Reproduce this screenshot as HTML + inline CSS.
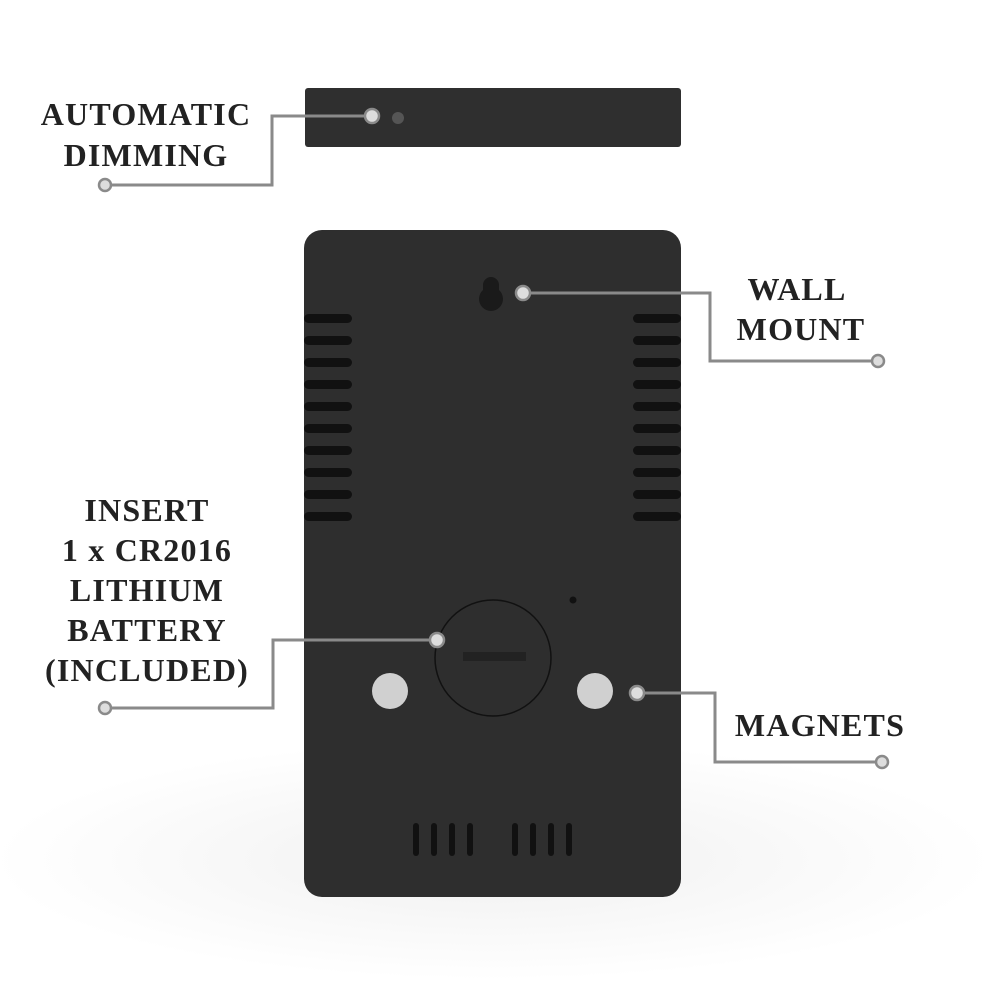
<!DOCTYPE html>
<html><head><style>
body{margin:0;background:#fff;}
svg text{font-family:"Liberation Serif",serif;font-weight:bold;font-size:32px;letter-spacing:1.2px;fill:#222;text-anchor:middle;}
</style></head><body>
<svg width="1002" height="1002" viewBox="0 0 1002 1002" xmlns="http://www.w3.org/2000/svg">
<defs><radialGradient id="sh" cx="0.5" cy="0.5" r="0.5"><stop offset="0" stop-color="#f0f0f0"/><stop offset="1" stop-color="#fff"/></radialGradient></defs>
<ellipse cx="493" cy="860" rx="500" ry="120" fill="url(#sh)"/>
<rect x="305" y="88" width="376" height="59" rx="3" fill="#2f2f2f"/>
<circle cx="398" cy="118" r="6" fill="#555"/>
<rect x="304" y="230" width="377" height="667" rx="18" fill="#2e2e2e"/>
<g fill="#111">
<rect x="304" y="314" width="48" height="9" rx="4.5"/><rect x="304" y="336" width="48" height="9" rx="4.5"/><rect x="304" y="358" width="48" height="9" rx="4.5"/><rect x="304" y="380" width="48" height="9" rx="4.5"/><rect x="304" y="402" width="48" height="9" rx="4.5"/><rect x="304" y="424" width="48" height="9" rx="4.5"/><rect x="304" y="446" width="48" height="9" rx="4.5"/><rect x="304" y="468" width="48" height="9" rx="4.5"/><rect x="304" y="490" width="48" height="9" rx="4.5"/><rect x="304" y="512" width="48" height="9" rx="4.5"/>
<rect x="633" y="314" width="48" height="9" rx="4.5"/><rect x="633" y="336" width="48" height="9" rx="4.5"/><rect x="633" y="358" width="48" height="9" rx="4.5"/><rect x="633" y="380" width="48" height="9" rx="4.5"/><rect x="633" y="402" width="48" height="9" rx="4.5"/><rect x="633" y="424" width="48" height="9" rx="4.5"/><rect x="633" y="446" width="48" height="9" rx="4.5"/><rect x="633" y="468" width="48" height="9" rx="4.5"/><rect x="633" y="490" width="48" height="9" rx="4.5"/><rect x="633" y="512" width="48" height="9" rx="4.5"/>
<rect x="413" y="823" width="6" height="33" rx="3"/><rect x="431" y="823" width="6" height="33" rx="3"/><rect x="449" y="823" width="6" height="33" rx="3"/><rect x="467" y="823" width="6" height="33" rx="3"/>
<rect x="512" y="823" width="6" height="33" rx="3"/><rect x="530" y="823" width="6" height="33" rx="3"/><rect x="548" y="823" width="6" height="33" rx="3"/><rect x="566" y="823" width="6" height="33" rx="3"/>
<circle cx="573" cy="600" r="3.5"/>
<path d="M491 277 a8 8 0 0 1 8 8 v5 a12 12 0 1 1 -16 0 v-5 a8 8 0 0 1 8 -8z" fill="#1a1a1a"/>
</g>
<circle cx="493" cy="658" r="58" fill="#2e2e2e" stroke="#111" stroke-width="1.5"/>
<rect x="463" y="652" width="63" height="9" fill="#222"/>
<circle cx="390" cy="691" r="18" fill="#d0d0d0"/>
<circle cx="595" cy="691" r="18" fill="#d0d0d0"/>
<g fill="none" stroke="#8a8a8a" stroke-width="3">
<polyline points="372,116 272,116 272,185 105,185"/>
<polyline points="523,293 710,293 710,361 878,361"/>
<polyline points="437,640 273,640 273,708 105,708"/>
<polyline points="637,693 715,693 715,762 882,762"/>
</g>
<g fill="#ddd" stroke="#8a8a8a" stroke-width="2.5">
<circle cx="372" cy="116" r="7"/><circle cx="105" cy="185" r="6"/>
<circle cx="523" cy="293" r="7"/><circle cx="878" cy="361" r="6"/>
<circle cx="437" cy="640" r="7"/><circle cx="105" cy="708" r="6"/>
<circle cx="637" cy="693" r="7"/><circle cx="882" cy="762" r="6"/>
</g>
<text x="146" y="125">AUTOMATIC</text>
<text x="146" y="166">DIMMING</text>
<text x="797" y="300">WALL</text>
<text x="801" y="340">MOUNT</text>
<text x="147" y="521">INSERT</text>
<text x="147" y="561">1 x CR2016</text>
<text x="147" y="601">LITHIUM</text>
<text x="147" y="641">BATTERY</text>
<text x="147" y="681">(INCLUDED)</text>
<text x="820" y="736">MAGNETS</text>
</svg>
</body></html>
